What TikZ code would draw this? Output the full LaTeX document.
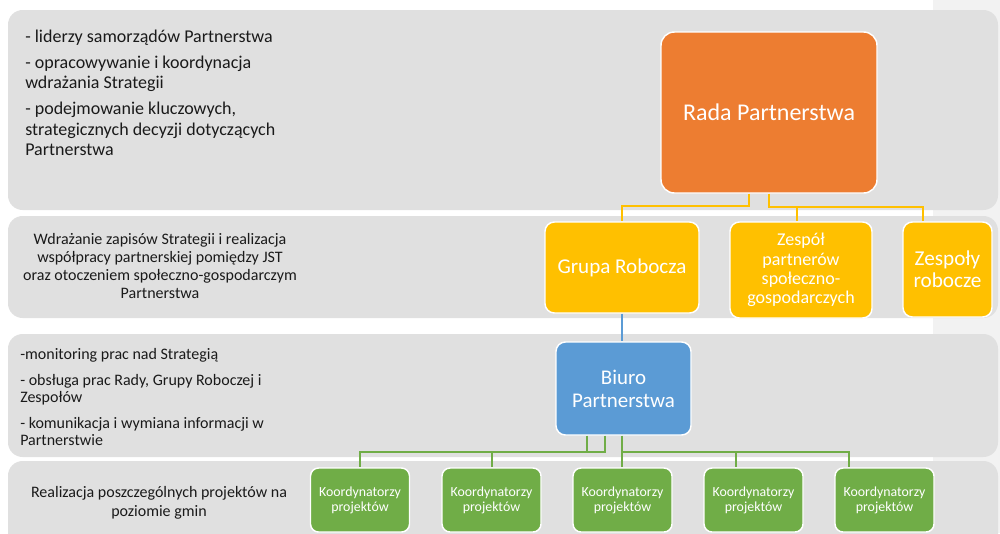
\documentclass[tikz,border=0pt]{standalone}
\usepackage{fontspec}
\setmainfont{Carlito}
\usetikzlibrary{calc}
\definecolor{bandc}{HTML}{E0E0E0}
\definecolor{stripc}{HTML}{F2F2F2}
\definecolor{orng}{HTML}{ED7D31}
\definecolor{yel}{HTML}{FFC000}
\definecolor{blu}{HTML}{5B9BD5}
\definecolor{grn}{HTML}{70AD47}
\definecolor{txt}{HTML}{1A1A1A}
\tikzset{
  bandbox/.style={fill=bandc, rounded corners=11pt},
  orgbox/.style={draw=white, line width=1.1pt, rounded corners=7pt, text=white, align=center, inner sep=0pt},
  kbox/.style={orgbox, fill=grn, minimum width=74.25pt, minimum height=48pt, rounded corners=6pt,
    font=\fontsize{10.4}{11.25}\selectfont},
  yline/.style={draw=yel, line width=1.5pt},
  bline/.style={draw=blu, line width=1.5pt},
  gline/.style={draw=grn, line width=1.5pt},
  bandtext/.style={text=txt, inner sep=0pt}
}
\begin{document}
\begin{tikzpicture}[x=0.75pt,y=-0.75pt]
\useasboundingbox (0,0) rectangle (1000,533);
\fill[white] (0,0) rectangle (1000,533);
\fill[stripc] (933,0) rectangle (1000,533);
% bands
\fill[bandbox] (8,10) rectangle (998,210);
\fill[bandbox] (8,216) rectangle (998,318);
\fill[bandbox] (8,334) rectangle (998,457);
\fill[bandbox] (8,461) rectangle (998,560);
% band texts
\node[bandtext, anchor=north west, align=left, font=\fontsize{13.5}{15.4}\selectfont] (t1) at (25,30)
  {- liderzy samorządów Partnerstwa\\[3.8pt]
   - opracowywanie i koordynacja\\ wdrażania Strategii\\[3.8pt]
   - podejmowanie kluczowych,\\ strategicznych decyzji dotyczących\\ Partnerstwa};
\node[bandtext, anchor=north, align=center, font=\fontsize{12}{13.5}\selectfont] (t2) at (160,233)
  {Wdrażanie zapisów Strategii i realizacja\\ współpracy partnerskiej pomiędzy JST\\
   oraz otoczeniem społeczno-gospodarczym\\ Partnerstwa};
\node[bandtext, anchor=north west, align=left, font=\fontsize{12}{12.4}\selectfont] (t3) at (20,348)
  {-monitoring prac nad Strategią\\[7.5pt]
   - obsługa prac Rady, Grupy Roboczej i\\ Zespołów\\[7.5pt]
   - komunikacja i wymiana informacji w\\ Partnerstwie};
\node[bandtext, anchor=north, align=center, font=\fontsize{12}{14.6}\selectfont] (t4) at (159,486)
  {Realizacja poszczególnych projektów na\\ poziomie gmin};
% boxes
\node[orgbox, fill=orng, minimum width=162pt, minimum height=120.75pt, rounded corners=10pt,
  font=\fontsize{18}{21}\selectfont] (rada) at (769,112.5) {Rada Partnerstwa};
\node[orgbox, fill=yel, minimum width=115.5pt, minimum height=68.25pt,
  font=\fontsize{15.8}{17}\selectfont] (grupa) at (622,267.5) {Grupa Robocza};
\node[orgbox, fill=yel, minimum width=106.5pt, minimum height=72pt,
  font=\fontsize{13.5}{14.4}\selectfont] (zp) at (801,270) {Zespół\\ partnerów\\ społeczno-\\ gospodarczych};
\node[orgbox, fill=yel, minimum width=66.75pt, minimum height=71.25pt,
  font=\fontsize{15.9}{16.5}\selectfont] (zr) at (947.5,269.5) {Zespoły\\ robocze};
\node[orgbox, fill=blu, minimum width=101.25pt, minimum height=69.75pt,
  font=\fontsize{15.7}{17.25}\selectfont] (biuro) at (623.5,388.5) {Biuro\\ Partnerstwa};
\node[kbox] (k1) at (360,500) {Koordynatorzy\\ projektów};
\node[kbox] (k2) at (491.5,500) {Koordynatorzy\\ projektów};
\node[kbox] (k3) at (622.5,500) {Koordynatorzy\\ projektów};
\node[kbox] (k4) at (753.5,500) {Koordynatorzy\\ projektów};
\node[kbox] (k5) at (884.5,500) {Koordynatorzy\\ projektów};
% yellow connectors
\coordinate (yl) at (749,206);
\coordinate (yr) at (769,207);
\coordinate (yd2) at (797,207);
\coordinate (yd3) at (923,207);
\draw[yline] (rada.south -| yl) -- (yl) -| (grupa.north);
\draw[yline] (rada.south -| yr) -- (yr) -- (yd3) -- (zr.north -| yd3);
\draw[yline] (yd2) -- (zp.north -| yd2);
% blue connector
\draw[bline] (grupa.south) -- (grupa.south |- biuro.north);
% green connectors
\coordinate (gl1) at (587,452);
\coordinate (gl2) at (605,452);
\coordinate (gr) at (622,452);
\coordinate (gd4) at (736,452);
\coordinate (gd5) at (849,452);
\draw[gline] (biuro.south -| gl1) -- (gl1) -| (k1.north);
\draw[gline] (biuro.south -| gl2) -- (gl2) -| (k2.north);
\draw[gline] (biuro.south -| gr) -- (k3.north -| gr);
\draw[gline] (gr) -- (gd5) -- (k5.north -| gd5);
\draw[gline] (gd4) -- (k4.north -| gd4);
\end{tikzpicture}
\end{document}
